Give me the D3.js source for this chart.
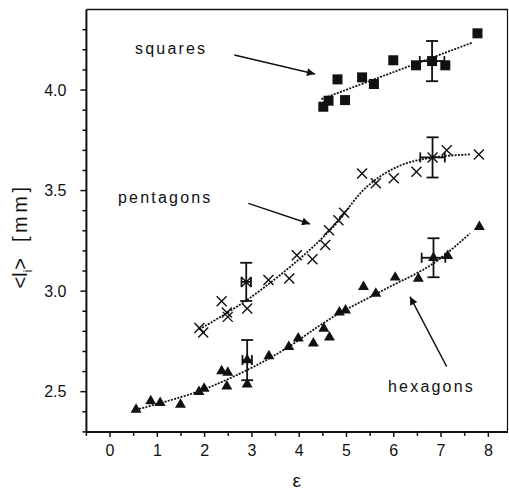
<!DOCTYPE html>
<html>
<head>
<meta charset="utf-8">
<script src="https://cdn.jsdelivr.net/npm/d3@7"></script>
<style>
  html, body { margin: 0; padding: 0; background: #fff; }
  svg { display: block; }
  text { font-family: Arial, "Liberation Sans", Helvetica, sans-serif; fill: #111; }
</style>
</head>
<body>
<svg id="chart" width="509" height="495"></svg>
<script>
// Mean cell size <l_i> versus control parameter epsilon, for three cell types.
const squaresX   = [4.51, 4.62, 4.81, 4.97, 5.33, 5.58, 5.99, 6.47, 6.81, 7.09, 7.77];
const squaresY   = [3.917, 3.947, 4.053, 3.95, 4.063, 4.03, 4.148, 4.123, 4.144, 4.123, 4.282];

const pentagonsX = [1.89, 1.97, 2.36, 2.47, 2.49, 2.88, 2.90, 3.35, 3.79, 3.95, 4.28, 4.55, 4.63, 4.83, 4.95, 5.33, 5.62, 6.00, 6.48, 6.82, 7.12, 7.80];
const pentagonsY = [2.817, 2.794, 2.95, 2.894, 2.872, 3.046, 2.914, 3.055, 3.063, 3.179, 3.159, 3.229, 3.303, 3.353, 3.39, 3.585, 3.536, 3.561, 3.594, 3.665, 3.70, 3.68];

const hexagonsX  = [0.55, 0.86, 1.06, 1.49, 1.88, 1.99, 2.36, 2.49, 2.47, 2.90, 2.90, 3.36, 3.78, 3.98, 4.30, 4.52, 4.64, 4.85, 4.98, 5.36, 5.62, 6.03, 6.52, 6.84, 7.14, 7.81];
const hexagonsY  = [2.411, 2.453, 2.444, 2.436, 2.499, 2.516, 2.602, 2.595, 2.527, 2.657, 2.537, 2.677, 2.723, 2.765, 2.74, 2.814, 2.77, 2.894, 2.905, 3.021, 2.988, 3.068, 3.063, 3.166, 3.176, 3.32];

// Smooth guide curves through each family
const squaresFitX   = [4.47, 7.65];
const squaresFitY   = [3.955, 4.235];
const pentagonsFitX = [1.89, 2.89, 4.02, 4.72, 5.43, 6.13, 6.84, 7.61];
const pentagonsFitY = [2.81, 2.955, 3.163, 3.32, 3.519, 3.624, 3.665, 3.68];
const hexagonsFitX  = [0.55, 1.90, 2.96, 3.66, 4.72, 5.78, 6.84, 7.61];
const hexagonsFitY  = [2.41, 2.504, 2.615, 2.706, 2.872, 3.005, 3.138, 3.287];

// Representative error bars: [x, y, dx, dy]
const errorBars = [
  [6.81, 4.144, 0.26, 0.10],
  [6.82, 3.665, 0.26, 0.10],
  [2.88, 3.046, 0.10, 0.095],
  [6.84, 3.166, 0.25, 0.097],
  [2.90, 2.657, 0.10, 0.10]
];

const xMajorTicks = [0, 1, 2, 3, 4, 5, 6, 7, 8];
const yMajorTicks = [2.5, 3.0, 3.5, 4.0];

const svg = d3.select("#chart");
const x = d3.scaleLinear().domain([-0.5, 8.42]).range([86.4, 508.2]);
const y = d3.scaleLinear().domain([2.3, 4.4]).range([431.9, 9.6]);

const axisColor = "#111";

// Frame: top and right borders
svg.append("line").attr("x1", x(-0.5)).attr("x2", 508).attr("y1", y(4.4)).attr("y2", y(4.4))
  .attr("stroke", axisColor).attr("stroke-width", 1.5);
svg.append("line").attr("x1", 507.5).attr("x2", 507.5).attr("y1", y(4.4)).attr("y2", y(2.3))
  .attr("stroke", axisColor).attr("stroke-width", 1.2);

// Bottom axis
const xMinor = d3.range(-0.5, 8.45, 0.5);
const gx = svg.append("g").attr("transform", `translate(0,${y(2.3)})`);
gx.append("line").attr("x1", x(-0.5)).attr("x2", 508).attr("stroke", axisColor).attr("stroke-width", 2);
gx.selectAll("line.tk").data(xMinor).join("line").attr("class", "tk")
  .attr("x1", d => x(d)).attr("x2", d => x(d)).attr("y1", 0)
  .attr("y2", d => Number.isInteger(d) ? 5 : 4)
  .attr("stroke", axisColor).attr("stroke-width", 1.5);
gx.selectAll("text").data(xMajorTicks).join("text")
  .attr("x", d => x(d)).attr("y", 24).attr("text-anchor", "middle")
  .attr("font-size", 16).text(d => d);

// Left axis
const yMinor = d3.range(23, 44).map(v => v / 10);
const gy = svg.append("g").attr("transform", `translate(${x(-0.5)},0)`);
gy.append("line").attr("y1", y(4.4)).attr("y2", y(2.3)).attr("stroke", axisColor).attr("stroke-width", 2);
gy.selectAll("line.tk").data(yMinor).join("line").attr("class", "tk")
  .attr("y1", d => y(d)).attr("y2", d => y(d)).attr("x1", 0)
  .attr("x2", d => (Math.round(d * 10) % 5 === 0) ? -6 : -4)
  .attr("stroke", axisColor).attr("stroke-width", 1.5);
gy.selectAll("text").data(yMajorTicks).join("text")
  .attr("x", -20).attr("y", d => y(d)).attr("dy", "0.36em").attr("text-anchor", "end")
  .attr("font-size", 16).text(d => d.toFixed(1));

// Axis titles
svg.append("text").attr("x", 296.7).attr("y", 487).attr("text-anchor", "middle")
  .attr("font-size", 19).text("ε");
const yt = svg.append("text").attr("transform", "translate(27,236) rotate(-90)")
  .attr("text-anchor", "middle").attr("font-size", 20);
yt.append("tspan").text("<l");
yt.append("tspan").attr("font-size", 12).attr("dy", 5).text("i");
yt.append("tspan").attr("dy", -5).text(">");
yt.append("tspan").attr("dx", 16).attr("letter-spacing", 3.5).text("[mm]");

// Guide curves
const line = d3.line().x(d => x(d[0])).y(d => y(d[1])).curve(d3.curveCatmullRom.alpha(0.5));
const fits = [
  d3.zip(squaresFitX, squaresFitY),
  d3.zip(pentagonsFitX, pentagonsFitY),
  d3.zip(hexagonsFitX, hexagonsFitY)
];
svg.selectAll("path.fit").data(fits).join("path").attr("class", "fit")
  .attr("d", line).attr("fill", "none").attr("stroke", "#111")
  .attr("stroke-width", 1.8).attr("stroke-dasharray", "2,1.3");

// Error bars
const eb = svg.append("g").attr("stroke", "#111").attr("stroke-width", 1.8).attr("fill", "none");
errorBars.forEach(([ex, ey, dx, dy]) => {
  eb.append("line").attr("x1", x(ex)).attr("x2", x(ex)).attr("y1", y(ey + dy)).attr("y2", y(ey - dy));
  eb.append("line").attr("x1", x(ex) - 6).attr("x2", x(ex) + 6).attr("y1", y(ey + dy)).attr("y2", y(ey + dy));
  eb.append("line").attr("x1", x(ex) - 6).attr("x2", x(ex) + 6).attr("y1", y(ey - dy)).attr("y2", y(ey - dy));
  eb.append("line").attr("x1", x(ex - dx)).attr("x2", x(ex + dx)).attr("y1", y(ey)).attr("y2", y(ey));
  eb.append("line").attr("x1", x(ex - dx)).attr("x2", x(ex - dx)).attr("y1", y(ey) - 5).attr("y2", y(ey) + 5);
  eb.append("line").attr("x1", x(ex + dx)).attr("x2", x(ex + dx)).attr("y1", y(ey) - 5).attr("y2", y(ey) + 5);
});

// Squares
svg.append("g").selectAll("rect").data(d3.zip(squaresX, squaresY)).join("rect")
  .attr("x", d => x(d[0]) - 5).attr("y", d => y(d[1]) - 5)
  .attr("width", 10).attr("height", 10).attr("fill", "#111");

// Pentagons (crosses)
const cross = svg.append("g").attr("stroke", "#111").attr("stroke-width", 1.4);
d3.zip(pentagonsX, pentagonsY).forEach(([px, py]) => {
  const cx = x(px), cy = y(py), r = 5;
  cross.append("line").attr("x1", cx - r).attr("y1", cy - r).attr("x2", cx + r).attr("y2", cy + r);
  cross.append("line").attr("x1", cx - r).attr("y1", cy + r).attr("x2", cx + r).attr("y2", cy - r);
});

// Hexagons (triangles)
const tri = d3.symbol().type(d3.symbolTriangle).size(52);
svg.append("g").selectAll("path").data(d3.zip(hexagonsX, hexagonsY)).join("path")
  .attr("transform", d => `translate(${x(d[0])},${y(d[1])})`)
  .attr("d", tri).attr("fill", "#111");

// Labels with arrows
const defs = svg.append("defs");
defs.append("marker").attr("id", "head").attr("viewBox", "0 0 10 10")
  .attr("refX", 10).attr("refY", 5).attr("markerWidth", 12).attr("markerHeight", 8)
  .attr("markerUnits", "userSpaceOnUse").attr("orient", "auto")
  .append("path").attr("d", "M0,0 L10,5 L0,10 z").attr("fill", "#111");

const labels = [
  { text: "squares",   tx: 135, ty: 54,  a: [234.3, 55,    315, 74] },
  { text: "pentagons", tx: 118, ty: 203, a: [248.3, 203.3, 310, 224] },
  { text: "hexagons",  tx: 388, ty: 392, a: [446.7, 366.7, 410, 296.7] }
];
labels.forEach(l => {
  svg.append("text").attr("x", l.tx).attr("y", l.ty).attr("font-size", 16)
    .attr("letter-spacing", 2.2).text(l.text);
  svg.append("line").attr("x1", l.a[0]).attr("y1", l.a[1]).attr("x2", l.a[2]).attr("y2", l.a[3])
    .attr("stroke", "#111").attr("stroke-width", 1.4).attr("marker-end", "url(#head)");
});
</script>
</body>
</html>
